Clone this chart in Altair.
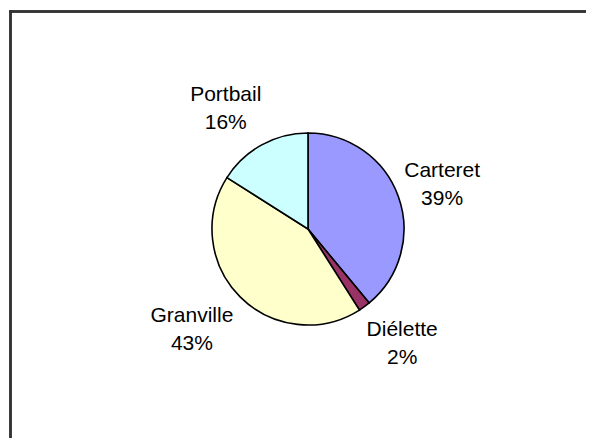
import altair as alt
import pandas as pd

names = ["Carteret", "Diélette", "Granville", "Portbail"]
values = [39, 2, 43, 16]
colors = ["#9999FF", "#993366", "#FFFFCC", "#CCFFFF"]

total = sum(values)
df = pd.DataFrame({
    "name": names,
    "value": values,
    "order": list(range(len(names))),
    "label": [f"{n}\n{round(v * 100 / total)}%" for n, v in zip(names, values)],
})

W, H = 578, 430
CX, CY = 300, 221
R = 96
LR = 150

base = alt.Chart(df)

pie = base.mark_arc(stroke="black", strokeWidth=1.6, radius=R).encode(
    theta=alt.Theta("value:Q", stack=True),
    order=alt.Order("order:Q"),
    color=alt.Color("name:N", scale=alt.Scale(domain=names, range=colors), legend=None),
    x=alt.value(CX),
    y=alt.value(CY),
)

# small per-label nudges (style) to mimic the hand-placed labels
nudge = {"Carteret": (-7, -7), "Diélette": (6, -20), "Granville": (-10, -19), "Portbail": (-10, -3)}

labels = []
for n in names:
    dx, dy = nudge[n]
    labels.append(
        base.transform_window(
            cum="sum(value)", sort=[alt.SortField("order")], frame=[None, 0]
        ).transform_calculate(
            mid=f"(datum.cum - datum.value / 2) / {total} * 2 * PI"
        ).transform_calculate(
            px=f"{CX} + {LR} * sin(datum.mid)",
            py=f"{CY} - {LR} * cos(datum.mid)",
        ).transform_filter(alt.datum.name == n).mark_text(
            font="Liberation Sans", fontSize=21, lineHeight=28, lineBreak="\n",
            color="black", align="center", baseline="middle", dx=dx, dy=dy,
        ).encode(
            x=alt.X("px:Q", scale=None),
            y=alt.Y("py:Q", scale=None),
            text="label:N",
        )
    )

frame_top = alt.Chart(df).mark_rule(stroke="#333333", strokeWidth=2).encode(
    x=alt.value(1.5), x2=alt.value(W), y=alt.value(3.5)
)
frame_left = alt.Chart(df).mark_rule(stroke="#333333", strokeWidth=2).encode(
    x=alt.value(2.5), y=alt.value(2.5), y2=alt.value(H)
)

chart = alt.layer(frame_top, frame_left, pie, *labels).properties(
    width=W, height=H, padding=0, autosize=alt.AutoSizeParams(type="none")
).configure_view(stroke=None)

chart.save("out.html", embed_options={"renderer": "svg", "actions": False})
